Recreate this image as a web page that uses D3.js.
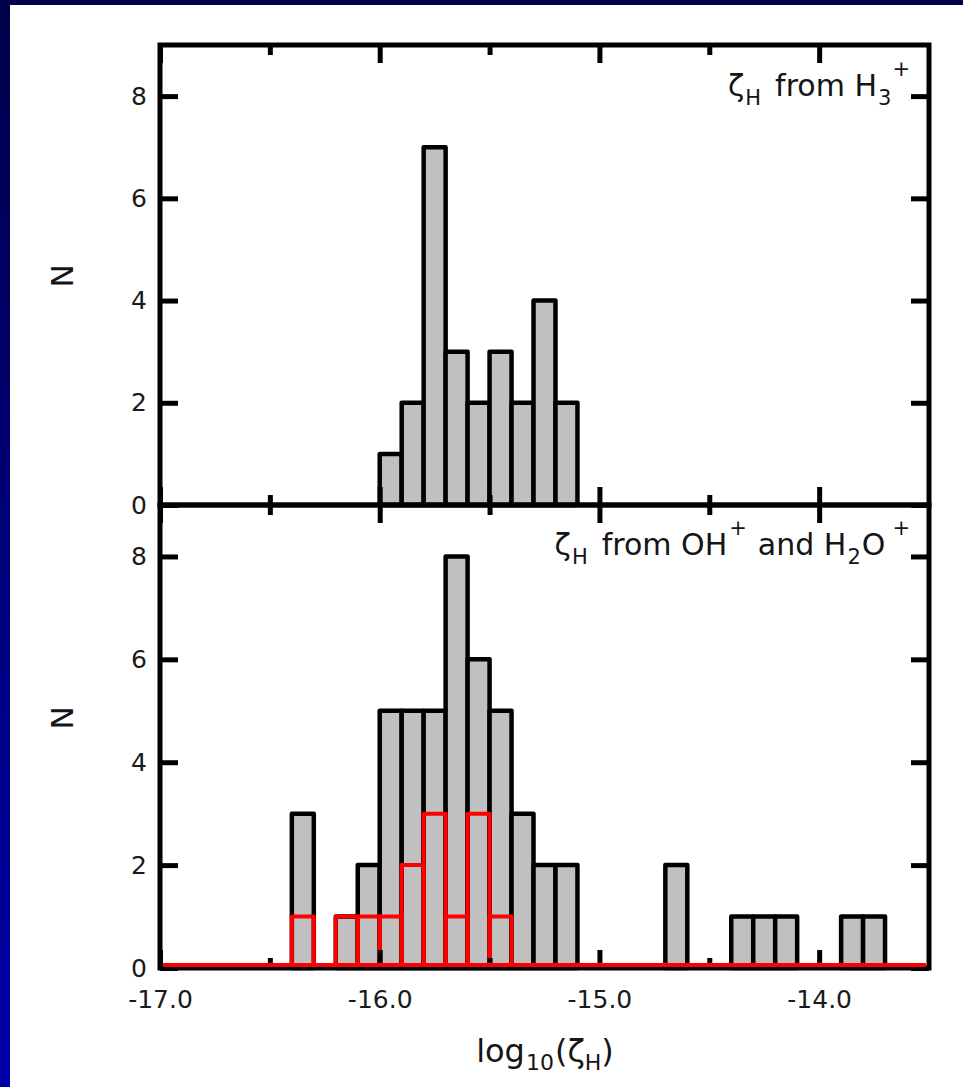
<!DOCTYPE html>
<html>
<head>
<meta charset="utf-8">
<script src="https://cdn.jsdelivr.net/npm/d3@7"></script>
<style>
  body { margin: 0; background: #00004a; }
  svg text { font-family: "DejaVu Sans", sans-serif; fill: #151515; }
</style>
</head>
<body>
<div class="chart"></div>
<script>
//Data (bin left edges in log10 zeta, bin width 0.1)
const binWidth = 0.1;

const h3Bins   = [-16.0, -15.9, -15.8, -15.7, -15.6, -15.5, -15.4, -15.3, -15.2];
const h3Counts = [1, 2, 7, 3, 2, 3, 2, 4, 2];

const ohBins   = [-16.4, -16.2, -16.1, -16.0, -15.9, -15.8, -15.7, -15.6, -15.5, -15.4, -15.3, -15.2,
                  -14.7, -14.4, -14.3, -14.2, -13.9, -13.8];
const ohCounts = [3, 1, 2, 5, 5, 5, 8, 6, 5, 3, 2, 2, 2, 1, 1, 1, 1, 1];

const redBins   = [-16.4, -16.2, -16.1, -16.0, -15.9, -15.8, -15.7, -15.6, -15.5];
const redCounts = [1, 1, 1, 1, 2, 3, 1, 3, 1];

const xDomain = [-17, -13.5];
const xMajor = [-17, -16, -15, -14];
const xMinor = [-16.5, -15.5, -14.5];
const yDomain = [0, 9];
const yTicks = [0, 2, 4, 6, 8];

function toBins(starts, counts){
    return starts.map((s, i) => ({x0: s, x1: s + binWidth, n: counts[i]}));
}

const fmtX = d => d3.format('.1f')(d).replace('\u2212', '-');

//Main
function ready(){
    const W = 963, H = 1087;
    const left = 160, right = 929;
    const top1 = 45, mid = 505, bot = 968;

    const svg = d3.select('.chart')
        .append('svg')
        .attr('width', W)
        .attr('height', H);

    //Slide background
    const grad = svg.append('defs').append('linearGradient')
        .attr('id', 'edge').attr('x1', 0).attr('y1', 0).attr('x2', 0).attr('y2', 1);
    grad.append('stop').attr('offset', '0%').attr('stop-color', '#00004a');
    grad.append('stop').attr('offset', '100%').attr('stop-color', '#0000a8');
    svg.append('rect').attr('width', W).attr('height', H).attr('fill', 'url(#edge)');
    svg.append('rect').attr('x', 10).attr('y', 5).attr('width', W - 10).attr('height', H - 5).attr('fill', '#fff');

    //Scales
    const xScale = d3.scaleLinear(xDomain, [left, right]);
    const yTop = d3.scaleLinear(yDomain, [mid, top1]);
    const yBot = d3.scaleLinear(yDomain, [bot, mid]);

    function drawBars(data, y){
        svg.append('g')
            .selectAll('rect')
            .data(data)
            .enter()
            .append('rect')
            .attr('x', d => xScale(d.x0))
            .attr('y', d => y(d.n))
            .attr('width', d => xScale(d.x1) - xScale(d.x0))
            .attr('height', d => y(0) - y(d.n))
            .style('fill', '#c0c0c0')
            .style('stroke', '#000')
            .style('stroke-width', 4.5)
            .style('stroke-linejoin', 'round');
    }

    drawBars(toBins(h3Bins, h3Counts), yTop);
    drawBars(toBins(ohBins, ohCounts), yBot);

    //Red subset outline
    svg.append('g')
        .selectAll('rect')
        .data(toBins(redBins, redCounts))
        .enter()
        .append('rect')
        .attr('x', d => xScale(d.x0))
        .attr('y', d => yBot(d.n))
        .attr('width', d => xScale(d.x1) - xScale(d.x0))
        .attr('height', d => yBot(0) - yBot(d.n))
        .style('fill', 'none')
        .style('stroke', '#ff0000')
        .style('stroke-width', 4)
        .style('stroke-linejoin', 'round');

    //Axes (ticks pointing inward on all sides)
    function addAxis(axis, tx, ty, labels){
        const g = svg.append('g')
            .attr('class', 'axis')
            .attr('transform', `translate(${tx}, ${ty})`)
            .call(axis);
        g.select('.domain').remove();
        g.selectAll('line').style('stroke', '#000').style('stroke-width', 5);
        if (!labels) g.selectAll('text').remove();
        else g.selectAll('text').style('font-size', '25px').style('fill', '#1a1a1a');
        return g;
    }

    const xMaj = (a, lab) => a(xScale).tickValues(xMajor).tickSizeInner(-18).tickSizeOuter(0)
        .tickPadding(22).tickFormat(lab ? fmtX : '');
    const xMin = a => a(xScale).tickValues(xMinor).tickSizeInner(-10).tickSizeOuter(0).tickFormat('');

    [[top1, d3.axisTop], [mid, d3.axisBottom], [mid, d3.axisTop], [bot, d3.axisBottom]].forEach(([y, a], i) => {
        addAxis(xMaj(a, i === 3), 0, y, i === 3);
        addAxis(xMin(a), 0, y, false);
    });

    [yTop, yBot].forEach(y => {
        addAxis(d3.axisLeft(y).tickValues(yTicks).tickSizeInner(-18).tickSizeOuter(0).tickPadding(13), left, 0, true);
        addAxis(d3.axisRight(y).tickValues(yTicks).tickSizeInner(-18).tickSizeOuter(0).tickFormat(''), right, 0, false);
    });

    //Frames
    [[top1, mid], [mid, bot]].forEach(([a, b]) => {
        svg.append('rect')
            .attr('x', left).attr('y', a)
            .attr('width', right - left).attr('height', b - a)
            .style('fill', 'none')
            .style('stroke', '#000')
            .style('stroke-width', 5);
    });

    //Red zero line sits just above the bottom frame
    svg.append('line')
        .attr('x1', left + 3).attr('x2', right - 3)
        .attr('y1', yBot(0) - 3).attr('y2', yBot(0) - 3)
        .style('stroke', '#ff0000')
        .style('stroke-width', 4);

    //Panel labels (each part: text, shift, extra gap)
    function label(x, y, parts){
        const t = svg.append('text')
            .attr('x', x).attr('y', y)
            .attr('text-anchor', 'end')
            .style('font-size', '30px');
        parts.forEach(p => {
            const s = t.append('tspan').text(p.t).attr('dx', p.gap || 0);
            if (p.small) s.style('font-size', '21px');
            if (p.dy) s.attr('dy', p.dy);
        });
        return t;
    }

    label(910, 96, [
        {t: '\u03b6'}, {t: 'H', small: true, dy: 9, gap: 1}, {t: 'from H', dy: -9, gap: 14},
        {t: '3', small: true, dy: 9, gap: 1}, {t: '+', small: true, dy: -29, gap: 1}
    ]);
    label(910, 555, [
        {t: '\u03b6'}, {t: 'H', small: true, dy: 9, gap: 1}, {t: 'from OH', dy: -9, gap: 14},
        {t: '+', small: true, dy: -20, gap: 2}, {t: 'and H', dy: 20, gap: 11},
        {t: '2', small: true, dy: 9, gap: 1}, {t: 'O', dy: -9, gap: 1}, {t: '+', small: true, dy: -20, gap: 7}
    ]);

    //Y axis titles
    [[276, 'N'], [718, 'N']].forEach(([y, s]) => {
        svg.append('text')
            .attr('transform', `translate(73, ${y}) rotate(-90)`)
            .attr('text-anchor', 'middle')
            .style('font-size', '31px')
            .text(s);
    });

    //X axis title
    const xt = svg.append('text')
        .attr('x', 545).attr('y', 1062)
        .attr('text-anchor', 'middle')
        .style('font-size', '32px');
    xt.append('tspan').text('log');
    xt.append('tspan').text('10').style('font-size', '22px').attr('dy', 8).attr('dx', 1);
    xt.append('tspan').text('(\u03b6').attr('dy', -8).attr('dx', 1);
    xt.append('tspan').text('H').style('font-size', '22px').attr('dy', 8);
    xt.append('tspan').text(')').attr('dy', -8);
}

ready();
</script>
</body>
</html>
